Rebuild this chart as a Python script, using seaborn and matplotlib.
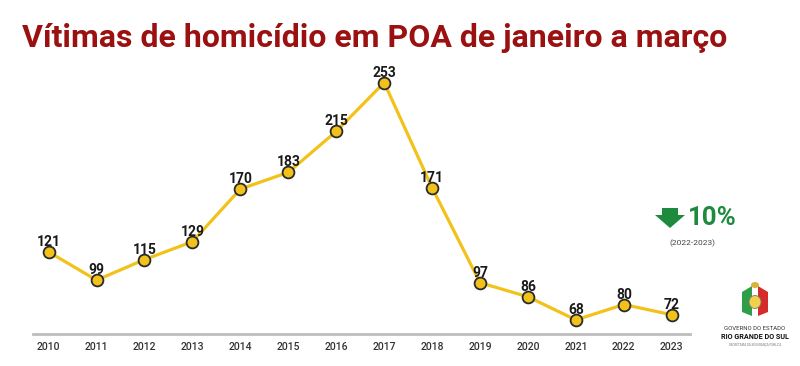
import matplotlib
matplotlib.use("Agg")
import matplotlib.pyplot as plt
import matplotlib.patches as mpatches
import seaborn as sns
import pandas as pd

years = [2010, 2011, 2012, 2013, 2014, 2015, 2016, 2017, 2018, 2019, 2020, 2021, 2022, 2023]
victims = [121, 99, 115, 129, 170, 183, 215, 253, 171, 97, 86, 68, 80, 72]
title = "Vítimas de homicídio em POA de janeiro a março"

df = pd.DataFrame({"ano": years, "vitimas": victims})

sns.set_theme(style="white")
plt.rcParams['font.family'] = ['Roboto', 'DejaVu Sans']

W, H = 800, 366
fig = plt.figure(figsize=(8, 3.66), dpi=100)
ax = fig.add_axes([0.041, 0.0874, 0.8215, 0.708])

sns.lineplot(data=df, x="ano", y="vitimas", ax=ax, color="#F2C21B", linewidth=2.3,
             marker="o", markersize=8.5, markerfacecolor="#F2C21B",
             markeredgecolor="#2a2a2a", markeredgewidth=1.3, zorder=3)

for x, y in zip(years, victims):
    ax.text(x, y + 4.6, str(y), ha="center", va="baseline", fontsize=10,
            fontweight="bold", color="#1a1a1a", zorder=4)

ax.set_xlim(2009.67, 2023.38)
ax.set_ylim(57, 259)
ax.set_xticks(years)
ax.set_xticklabels([str(y) for y in years], fontsize=7.5, color="#333333", fontweight="medium")
ax.set_yticks([])
ax.set_xlabel("")
ax.set_ylabel("")
for s in ["top", "right", "left"]:
    ax.spines[s].set_visible(False)
ax.spines["bottom"].set_color("#bdbdbd")
ax.spines["bottom"].set_linewidth(2)
ax.tick_params(axis="x", length=0, pad=6)

fig.text(0.028, 0.895, title, fontsize=23, fontweight="bold", color="#9B1111",
         ha="left", va="center")

def px(x, y):
    return (x / W, 1 - y / H)

# decrease indicator: block arrow
green = "#1E8A3E"
arrow_pts = [px(662, 208), px(678, 208), px(678, 215), px(685, 215),
             px(670, 228), px(655, 215), px(662, 215)]
fig.patches.append(mpatches.Polygon(arrow_pts, closed=True, transform=fig.transFigure,
                                    facecolor=green, edgecolor="none"))
fig.text(688 / W, 1 - 218 / H, "10%", fontsize=18.5, fontweight="bold", color=green,
         ha="left", va="center")
fig.text(693 / W, 1 - 243 / H, "(2022-2023)", fontsize=6, color="#444444",
         ha="center", va="center")

# state government mark (simplified emblem)
fig.patches.append(mpatches.Polygon([px(742, 292), px(752, 286), px(752, 316), px(742, 312)],
                                    closed=True, transform=fig.transFigure,
                                    facecolor="#2E9E48", edgecolor="none"))
fig.patches.append(mpatches.Polygon([px(768, 292), px(758, 286), px(758, 316), px(768, 312)],
                                    closed=True, transform=fig.transFigure,
                                    facecolor="#D52B2B", edgecolor="none"))
fig.patches.append(mpatches.Ellipse(px(755, 302), 12 / W, 13 / H, transform=fig.transFigure,
                                    facecolor="#F2D14A", edgecolor="#777777", linewidth=0.6))
fig.patches.append(mpatches.Ellipse(px(755, 285), 8 / W, 6 / H, transform=fig.transFigure,
                                    facecolor="#D9B43A", edgecolor="none"))
fig.text(755 / W, 1 - 328 / H, "GOVERNO DO ESTADO", fontsize=4.3, color="#333333",
         ha="center", va="center")
fig.text(755 / W, 1 - 337 / H, "RIO GRANDE DO SUL", fontsize=5.2, fontweight="bold",
         color="#111111", ha="center", va="center")
fig.text(755 / W, 1 - 345 / H, "SECRETARIA DA SEGURANÇA PÚBLICA", fontsize=2.2,
         color="#777777", ha="center", va="center")

fig.savefig("out.png", dpi=100)
